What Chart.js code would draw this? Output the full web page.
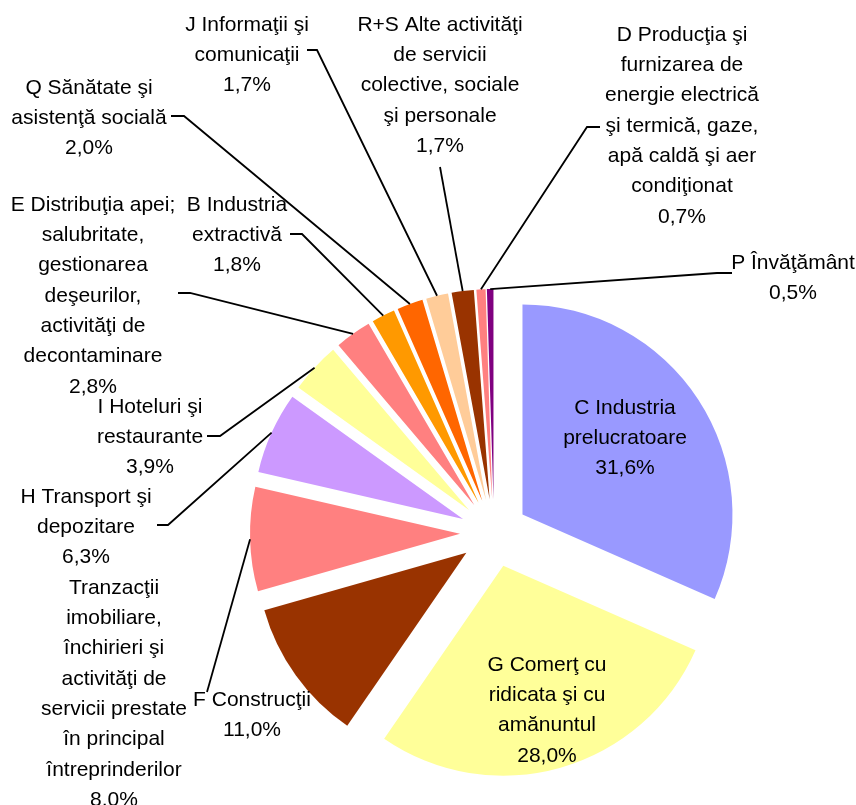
<!DOCTYPE html>
<html>
<head>
<meta charset="utf-8">
<script src="https://cdn.jsdelivr.net/npm/chart.js@4.4.0/dist/chart.umd.min.js"></script>
<style>
  html, body { margin: 0; padding: 0; background: #ffffff; }
</style>
</head>
<body>
<canvas id="pieChart" width="856" height="805"></canvas>
<script>
// Categories (text of each label, lines separated by \n)
const categorii = [
  "C Industria\nprelucratoare",
  "G Comerţ cu\nridicata şi cu\namănuntul",
  "F Construcţii",
  "Tranzacţii\nimobiliare,\nînchirieri şi\nactivităţi de\nservicii prestate\nîn principal\nîntreprinderilor",
  "H Transport şi\ndepozitare",
  "I Hoteluri şi\nrestaurante",
  "E Distribuţia apei;\nsalubritate,\ngestionarea\ndeşeurilor,\nactivităţi de\ndecontaminare",
  "B Industria\nextractivă",
  "Q Sănătate şi\nasistenţă socială",
  "J Informaţii şi\ncomunicaţii",
  "R+S Alte activităţi\nde servicii\ncolective, sociale\nşi personale",
  "D Producţia şi\nfurnizarea de\nenergie electrică\nşi termică, gaze,\napă caldă şi aer\ncondiţionat",
  "P Învăţământ"
];

// Share of each category (%)
const procente = [31.6, 28.0, 11.0, 8.0, 6.3, 3.9, 2.8, 1.8, 2.0, 1.7, 1.7, 0.7, 0.5];

// Slice colours
const culori = [
  "#9999FF", "#FFFF99", "#993300", "#FF8080", "#CC99FF", "#FFFF99", "#FF8080",
  "#FF9900", "#FF6600", "#FFCC99", "#993300", "#FF8080", "#800080"
];

// Label placement: centre x, centre y of first line
const pozEtichete = [
  [625, 408], [547, 665], [252, 700], [114, 588], [86, 497], [150, 407], [93, 205],
  [237, 205], [89, 88], [247, 25], [440, 25], [682, 35], [793, 263]
];

// Leader lines: start x, start y, end of the short horizontal dash (null = none)
const liniiGhid = [
  null, null, null,
  [207, 692, null], [157, 525, 168], [207, 436, 220], [178, 293, 190],
  [290, 234, 302], [171, 116, 184], [307, 50, 317], [440, 167, null],
  [600, 127, 587], [732, 273, 717]
];

const EXPLODARE = 34;
const INALTIME_RAND = 30.3;

// Formats 31.6 -> "31,6%"
function formatProcent(v) {
  return v.toFixed(1).replace(".", ",") + "%";
}

// Draws each slice pushed out along its middle angle
const pluginExplodare = {
  id: "explodare",
  beforeDatasetDraw(chart, args) {
    const ctx = chart.ctx;
    args.meta.data.forEach((arc) => {
      const mid = (arc.startAngle + arc.endAngle) / 2;
      ctx.save();
      ctx.translate(Math.cos(mid) * EXPLODARE, Math.sin(mid) * EXPLODARE);
      arc.draw(ctx);
      ctx.restore();
    });
    return false;
  }
};

// Draws the labels and their leader lines
const pluginEtichete = {
  id: "etichete",
  afterDatasetsDraw(chart) {
    const ctx = chart.ctx;
    const meta = chart.getDatasetMeta(0);
    ctx.save();
    ctx.font = '21px "Liberation Sans", Arial, sans-serif';
    ctx.fillStyle = "#000000";
    ctx.textAlign = "center";
    ctx.textBaseline = "middle";

    meta.data.forEach((arc, i) => {
      const linii = categorii[i].split("\n");
      linii.push(formatProcent(procente[i]));
      const [x, y] = pozEtichete[i];
      linii.forEach((t, k) => {
        ctx.fillText(t, x, y + k * INALTIME_RAND);
      });
    });

    ctx.strokeStyle = "#000000";
    ctx.lineWidth = 1.8;
    meta.data.forEach((arc, i) => {
      const g = liniiGhid[i];
      if (!g) return;
      const mid = (arc.startAngle + arc.endAngle) / 2;
      const r = EXPLODARE + arc.outerRadius;
      const ex = arc.x + Math.cos(mid) * r;
      const ey = arc.y + Math.sin(mid) * r;
      ctx.beginPath();
      ctx.moveTo(g[0], g[1]);
      if (g[2] !== null) ctx.lineTo(g[2], g[1]);
      ctx.lineTo(ex, ey);
      ctx.stroke();
    });
    ctx.restore();
  }
};

const ctx = document.getElementById("pieChart").getContext("2d");
const myChart = new Chart(ctx, {
  type: "pie",
  data: {
    labels: categorii,
    datasets: [
      {
        data: procente,
        backgroundColor: culori,
        borderWidth: 0,
        radius: 210,
      },
    ],
  },
  options: {
    responsive: false,
    animation: false,
    layout: {
      padding: { left: 132, top: 261, right: 0, bottom: 0 },
    },
    plugins: {
      legend: { display: false },
      tooltip: { enabled: false },
    },
  },
  plugins: [pluginExplodare, pluginEtichete],
});
</script>
</body>
</html>
